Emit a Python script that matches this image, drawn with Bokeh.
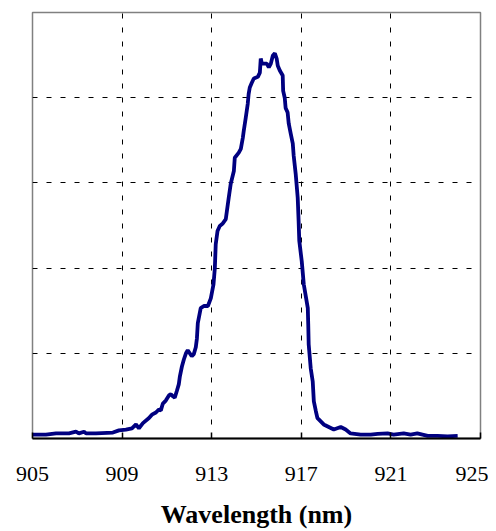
from bokeh.plotting import figure
from bokeh.models import Range1d, FixedTicker
from bokeh.embed import file_html
from bokeh.resources import INLINE

wavelength = [905.02, 905.60, 906.05, 906.36, 906.63, 906.94, 907.07, 907.30, 907.39, 907.83,
              908.59, 908.86, 909.17, 909.44, 909.62, 909.75, 909.93, 910.20, 910.33, 910.51,
              910.64, 910.73, 910.82, 910.95, 911.09, 911.18, 911.27, 911.35, 911.44, 911.53,
              911.58, 911.67, 911.76, 911.85, 911.93, 912.02, 912.11, 912.20, 912.29, 912.34,
              912.38, 912.51, 912.65, 912.83, 912.96, 913.08, 913.14, 913.18, 913.26, 913.36,
              913.48, 913.63, 913.76, 913.85, 913.99, 914.03, 914.21, 914.30, 914.39, 914.43,
              914.52, 914.61, 914.65, 914.70, 914.79, 914.88, 915.06, 915.15, 915.19, 915.24,
              915.32, 915.46, 915.55, 915.64, 915.73, 915.82, 915.90, 915.95, 916.04, 916.17,
              916.19, 916.26, 916.30, 916.39, 916.44, 916.53, 916.62, 916.66, 916.75, 916.84,
              916.88, 916.91, 917.02, 917.11, 917.29, 917.31, 917.33, 917.42, 917.51, 917.56,
              917.65, 917.72, 917.78, 918.00, 918.45, 918.76, 918.98, 919.20, 919.65, 920.10,
              920.41, 920.85, 921.12, 921.57, 921.88, 922.18, 922.64, 923.08, 923.53, 923.98]
intensity = [0.009, 0.009, 0.012, 0.012, 0.012, 0.016, 0.012, 0.016, 0.012, 0.012,
             0.014, 0.019, 0.021, 0.024, 0.033, 0.024, 0.036, 0.048, 0.056, 0.061,
             0.068, 0.066, 0.082, 0.089, 0.101, 0.104, 0.099, 0.096, 0.111, 0.127,
             0.146, 0.169, 0.186, 0.200, 0.207, 0.200, 0.193, 0.198, 0.214, 0.235,
             0.271, 0.306, 0.311, 0.311, 0.329, 0.362, 0.400, 0.456, 0.487, 0.499,
             0.504, 0.515, 0.565, 0.598, 0.628, 0.659, 0.671, 0.680, 0.706, 0.722,
             0.753, 0.786, 0.809, 0.824, 0.835, 0.845, 0.849, 0.859, 0.892, 0.880,
             0.880, 0.880, 0.871, 0.880, 0.899, 0.904, 0.892, 0.875, 0.864, 0.852,
             0.816, 0.800, 0.776, 0.765, 0.739, 0.715, 0.692, 0.664, 0.621, 0.565,
             0.511, 0.464, 0.416, 0.362, 0.306, 0.268, 0.221, 0.165, 0.134, 0.087,
             0.064, 0.048, 0.045, 0.033, 0.021, 0.027, 0.021, 0.012, 0.009, 0.009,
             0.011, 0.012, 0.009, 0.012, 0.009, 0.012, 0.006, 0.006, 0.005, 0.006]

x_ticks = [905, 909, 913, 917, 921, 925]
x_grid = [909, 913, 917, 921]
y_grid = [0.2, 0.4, 0.6, 0.8]

p = figure(width=488, height=531, output_backend="svg", toolbar_location=None,
           x_range=Range1d(905, 925), y_range=Range1d(0, 1),
           min_border_left=32, min_border_right=8, min_border_top=12, min_border_bottom=10)

p.line(wavelength, intensity, line_color="#000080", line_width=3.8)

p.background_fill_color = "white"
p.border_fill_color = "white"
p.outline_line_color = "#808080"
p.outline_line_width = 1.5

p.yaxis.visible = False

xa = p.xaxis[0]
xa.ticker = FixedTicker(ticks=x_ticks)
xa.minor_tick_line_color = None
xa.major_tick_in = 6
xa.major_tick_out = 0
xa.axis_line_color = "black"
xa.axis_line_width = 2
xa.major_tick_line_color = "black"
xa.major_tick_line_width = 1.5
xa.major_label_text_font = "Liberation Serif"
xa.major_label_text_font_size = "22px"
xa.major_label_text_color = "black"
xa.major_label_standoff = 28
xa.axis_label = "Wavelength (nm)"
xa.axis_label_text_font = "Liberation Serif"
xa.axis_label_text_font_style = "bold"
xa.axis_label_text_font_size = "26px"
xa.axis_label_text_color = "black"
xa.axis_label_standoff = 16

p.xgrid.ticker = FixedTicker(ticks=x_grid)
p.ygrid.ticker = FixedTicker(ticks=y_grid)
for g in (p.xgrid, p.ygrid):
    g.grid_line_color = "black"
    g.grid_line_dash = "5 9"
    g.grid_line_width = 1

open("out.html", "w").write(file_html(p, INLINE))
